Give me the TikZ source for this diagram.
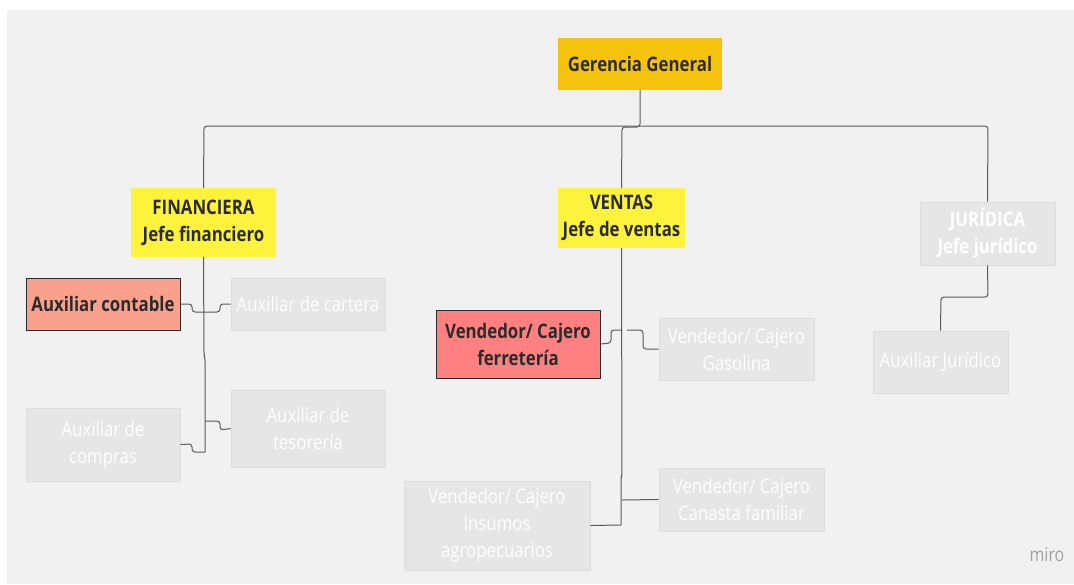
\documentclass[tikz,border=0pt]{standalone}
\usepackage{fontspec}
\setmainfont{Open Sans}[FakeStretch=0.84]
\definecolor{bgc}{HTML}{F1F1F1}
\definecolor{ggc}{HTML}{F6C30C}
\definecolor{yelc}{HTML}{FDF23C}
\definecolor{salc}{HTML}{F9A18D}
\definecolor{redc}{HTML}{FF8080}
\definecolor{grayboxc}{HTML}{E6E6E6}
\definecolor{grayborc}{HTML}{DCDCDC}
\definecolor{txtc}{HTML}{2B2B2B}
\definecolor{linec}{HTML}{5A5A5A}
\definecolor{miroc}{HTML}{A0A0A0}
\tikzset{
  base/.style={rectangle, align=center, inner sep=0pt, font=\fontsize{20}{27}\selectfont},
  topbox/.style={base, fill=ggc, text=txtc, font=\fontsize{20}{27}\selectfont\bfseries},
  yelbox/.style={base, fill=yelc, text=txtc, font=\fontsize{20}{27}\selectfont\bfseries},
  salbox/.style={base, fill=salc, draw=txtc, line width=0.8pt, text=txtc, font=\fontsize{20}{27}\selectfont\bfseries},
  redbox/.style={base, fill=redc, draw=txtc, line width=0.8pt, text=txtc, font=\fontsize{20}{27}\selectfont\bfseries},
  graybox/.style={base, fill=grayboxc, draw=grayborc, line width=0.8pt, text=white},
  graybold/.style={graybox, font=\fontsize{20}{27}\selectfont\bfseries},
  conn/.style={draw=linec, line width=1pt, rounded corners=3pt},
}
\begin{document}
\begin{tikzpicture}[x=1pt,y=-1pt]
\useasboundingbox (0,0) rectangle (1074,584);
\fill[white] (0,0) rectangle (1074,584);
\fill[bgc] (7,10) rectangle (1074,584);

\node[topbox, minimum width=164pt, minimum height=52pt] (gg) at (640,64) {Gerencia General};
\node[yelbox, minimum width=145pt, minimum height=69pt] (fin) at (203.5,222.5) {FINANCIERA\\Jefe financiero};
\node[yelbox, minimum width=127pt, minimum height=60pt] (ven) at (621.5,218) {VENTAS\\Jefe de ventas};
\node[graybold, minimum width=135pt, minimum height=63pt] (jur) at (987.5,233.5) {JURÍDICA\\Jefe jurídico};

\node[salbox, minimum width=154pt, minimum height=52pt] (ac) at (103,304) {Auxiliar contable};
\node[graybox, minimum width=154pt, minimum height=52pt] (acart) at (308,304) {Auxiliar de cartera};
\node[graybox, minimum width=154pt, minimum height=77pt] (ates) at (308,428.5) {Auxiliar de\\tesorería};
\node[graybox, minimum width=154pt, minimum height=73pt] (acomp) at (103,444.5) {Auxiliar de\\compras};

\node[redbox, minimum width=164pt, minimum height=68pt] (vf) at (518,344) {Vendedor/ Cajero\\ferretería};
\node[graybox, minimum width=155pt, minimum height=62pt] (vg) at (736.5,349) {Vendedor/ Cajero\\Gasolina};
\node[graybox, minimum width=165pt, minimum height=63pt] (vcf) at (741.5,499.5) {Vendedor/ Cajero\\Canasta familiar};
\node[graybox, minimum width=186pt, minimum height=89pt] (via) at (497,525.5) {Vendedor/ Cajero\\Insumos\\agropecuarios};

\node[graybox, minimum width=135pt, minimum height=62pt] (aj) at (940.5,362) {Auxiliar Jurídico};

\node[text=miroc, font=\fontsize{19}{21}\selectfont] (miro) at (1047,555) {miro};

% top connectors
\coordinate (hl) at (204,126);
\coordinate (hr) at (988,126);
\draw[conn] (fin.north) -- (hl) -- (hr) -- (jur.north);
\draw[conn] (gg.south) -- (640,127) -- (622,127) -- (ven.north);

% financiera
\coordinate (ftrunk) at (205,452);
\draw[conn] (fin.south) -- (204,355) -- (205,358) -- (ftrunk);
\draw[conn] (ac.east) -- (192,304) -- (192,312) -- (204,312);
\draw[conn] (acart.west) -- (220,304) -- (220,312) -- (204,312);
\draw[conn] (ates.west) -- (220,430) -- (220,421) -- (205,421);
\draw[conn] (acomp.east) -- (192,444) -- (192,452) -- (ftrunk);

% ventas
\coordinate (vtrunk) at (621,525);
\draw[conn] (ven.south) -- (622,475) -- (621,478) -- (vtrunk);
\draw[conn] (via.east) -- (vtrunk);
\draw[conn] (vcf.west) -- (622,500);
\draw[conn] (vf.east) -- (611,343) -- (611,330) -- (622,330);
\draw[conn] (vg.west) -- (643,349) -- (643,330) -- (627,330);

% juridica
\draw[conn] (jur.south) -- (988,297) -- (941,297) -- (aj.north);
\end{tikzpicture}
\end{document}
